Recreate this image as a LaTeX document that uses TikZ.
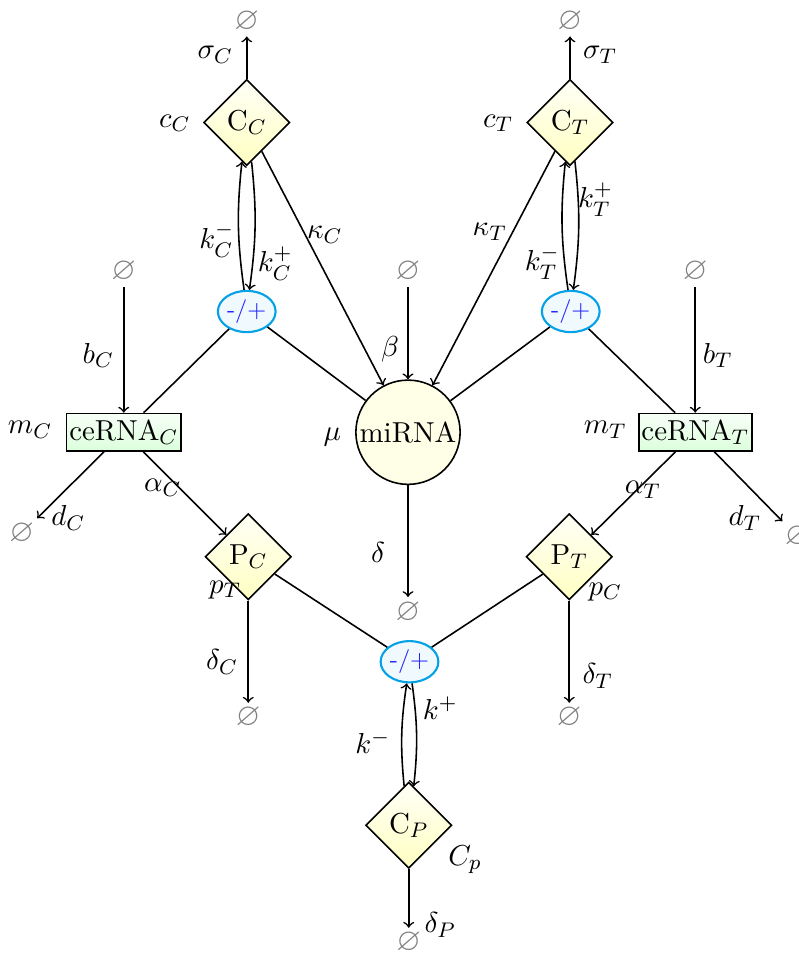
\documentclass[11pt,tikz,border=0pt]{standalone}
\usepackage{amsmath}
\usepackage{amssymb}
\usetikzlibrary{shapes.geometric}

\tikzset{
  cplx/.style={diamond, draw, top color=yellow!3, bottom color=yellow!24, minimum size=1.15cm, inner sep=1pt},
  rna/.style={rectangle, draw, top color=green!3, bottom color=green!14, minimum width=1.47cm, minimum height=0.5cm, inner sep=1pt},
  bind/.style={ellipse, draw=cyan!90!blue, line width=0.8pt, fill=cyan!6, minimum width=0.77cm, minimum height=0.55cm, inner sep=0pt, font=\sffamily\footnotesize, text=blue!85},
  void/.style={text=gray, inner sep=1.5pt, font=\large},
}

\begin{document}
\begin{tikzpicture}[line width=0.6pt, >=to]
\useasboundingbox (-5.44,5.733) rectangle (5.213,-7.0);

% complexes and species
\node[cplx] (CC) at (-2.15,4.1) {C$_C$};
\node[cplx] (CT) at (2.16,4.1) {C$_T$};
\node[bind] (ellC) at (-2.15,1.58) {-/+};
\node[bind] (ellT) at (2.17,1.58) {-/+};
\node[rna] (ceC) at (-3.79,-0.03) {ceRNA$_C$};
\node[rna] (ceT) at (3.83,-0.03) {ceRNA$_T$};
\node[circle, draw, fill=yellow!10, minimum size=1.39cm, inner sep=0pt] (mi) at (0,-0.03) {miRNA};
\node[cplx] (PC) at (-2.13,-1.69) {P$_C$};
\node[cplx] (PT) at (2.15,-1.69) {P$_T$};
\node[bind] (ellP) at (0.02,-3.09) {-/+};
\node[cplx] (CP) at (0.01,-5.27) {C$_P$};

% sources and sinks
\node[void] (oCC) at (-2.15,5.45) {$\varnothing$};
\node[void] (oCT) at (2.16,5.45) {$\varnothing$};
\node[void] (obC) at (-3.79,2.11) {$\varnothing$};
\node[void] (obeta) at (0,2.11) {$\varnothing$};
\node[void] (obT) at (3.83,2.11) {$\varnothing$};
\node[void] (odC) at (-5.15,-1.38) {$\varnothing$};
\node[void] (odT) at (5.19,-1.42) {$\varnothing$};
\node[void] (omi) at (0,-2.43) {$\varnothing$};
\node[void] (oPC) at (-2.13,-3.84) {$\varnothing$};
\node[void] (oPT) at (2.15,-3.84) {$\varnothing$};
\node[void] (oCP) at (0.01,-6.84) {$\varnothing$};

% rates
\node (lsC) at (-2.57,5.0) {$\sigma_C$};
\node (lsT) at (2.56,5.0) {$\sigma_T$};
\node (lcC) at (-3.11,4.09) {$c_C$};
\node (lcT) at (1.2,4.09) {$c_T$};
\node (lkCm) at (-2.55,2.53) {$k_C^-$};
\node (lkCp) at (-1.77,2.22) {$k_C^+$};
\node (lkapC) at (-1.11,2.6) {$\kappa_C$};
\node (lkapT) at (1.09,2.64) {$\kappa_T$};
\node (lkTp) at (2.5,3.07) {$k_T^+$};
\node (lkTm) at (1.79,2.23) {$k_T^-$};
\node (lbC) at (-4.13,0.99) {$b_C$};
\node (lbeta) at (-0.24,1.07) {$\beta$};
\node (lbT) at (4.13,0.99) {$b_T$};
\node (lmC) at (-5.04,0) {$m_C$};
\node (lmT) at (2.63,0) {$m_T$};
\node (lmu) at (-1.01,-0.09) {$\mu$};
\node (ldC) at (-4.53,-1.17) {$d_C$};
\node (laC) at (-3.27,-0.77) {$\alpha_C$};
\node (laT) at (3.13,-0.8) {$\alpha_T$};
\node (ldT) at (4.49,-1.17) {$d_T$};
\node (ldel) at (-0.4,-1.63) {$\delta$};
\node (lpT) at (-2.44,-2.13) {$p_T$};
\node (lpC) at (2.63,-2.16) {$p_C$};
\node (ldelC) at (-2.48,-3.09) {$\delta_C$};
\node (ldelT) at (2.53,-3.28) {$\delta_T$};
\node (lkp) at (0.43,-3.71) {$k^+$};
\node (lkm) at (-0.47,-4.16) {$k^-$};
\node (lCp) at (0.76,-5.73) {$C_p$};
\node (ldelP) at (0.43,-6.6) {$\delta_P$};

% top complexes
\draw[->] (CC) -- (oCC);
\draw[->] (CT) -- (oCT);
\draw[->] (ellC) to[bend left=7] (CC);
\draw[->] (CC) to[bend left=7] (ellC);
\draw[->] (ellT) to[bend left=7] (CT);
\draw[->] (CT) to[bend left=7] (ellT);
\draw[->] (CC) -- (mi);
\draw[->] (CT) -- (mi);

% production
\draw[->] (obC) -- (ceC);
\draw[->] (obeta) -- (mi);
\draw[->] (obT) -- (ceT);
\draw (ellC) -- (ceC);
\draw (ellC) -- (mi);
\draw (ellT) -- (ceT);
\draw (ellT) -- (mi);

% decay and translation
\draw[->] (ceC) -- (odC);
\draw[->] (ceC) -- (PC);
\draw[->] (ceT) -- (odT);
\draw[->] (ceT) -- (PT);
\draw[->] (mi) -- (omi);
\draw[->] (PC) -- (oPC);
\draw[->] (PT) -- (oPT);

% protein complex
\draw (PC) -- (ellP);
\draw (PT) -- (ellP);
\draw[->] (CP) to[bend left=7] (ellP);
\draw[->] (ellP) to[bend left=7] (CP);
\draw[->] (CP) -- (oCP);
\end{tikzpicture}
\end{document}
